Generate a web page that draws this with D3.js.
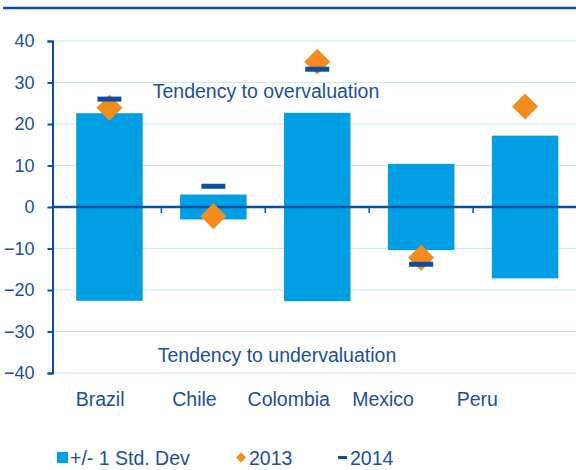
<!DOCTYPE html>
<html>
<head>
<meta charset="utf-8">
<script src="https://cdn.jsdelivr.net/npm/d3@7"></script>
<style>
  body { margin: 0; background: #fff; }
  svg { display: block; font-family: "Liberation Sans", Arial, sans-serif; }
</style>
</head>
<body>
<div id="chart"></div>
<script>
const countries = ["Brazil", "Chile", "Colombia", "Mexico", "Peru"];
const stdDev = [22.6, 3.0, 22.7, 10.4, 17.2];
const val2013 = [23.9, -2.2, 35.0, -12.2, 24.2];
const val2014 = [26.0, 5.0, 33.2, -13.8, null];
const yTicks = [40, 30, 20, 10, 0, -10, -20, -30, -40];

const width = 576, height = 470;
const dark = "#0b4ea2", textCol = "#1c4f9c", barCol = "#009fe3",
      orange = "#f28c1e", grid = "#c6e9f8";
const fs = "19.5px";

const svg = d3.select("#chart").append("svg")
    .attr("width", width).attr("height", height);

// top rule
svg.append("line")
    .attr("x1", 3).attr("x2", 576).attr("y1", 8).attr("y2", 8)
    .attr("stroke", dark).attr("stroke-width", 2.5);

const y = d3.scaleLinear().domain([-40, 40]).range([373, 41]);
const x = d3.scaleBand().domain(countries).range([57.5, 577]).padding(0);
// category labels sit on their own spacing
const xLab = d3.scaleBand().domain(countries).range([53, 524.5]);

// gridlines
svg.append("g").selectAll("line")
    .data(yTicks.filter(d => d !== 0))
    .enter().append("line")
    .attr("x1", 53).attr("x2", 576)
    .attr("y1", d => y(d)).attr("y2", d => y(d))
    .attr("stroke", grid).attr("stroke-width", 1);

// bars +/- 1 std dev
const barW = x.bandwidth() * 0.64;
svg.append("g").selectAll("rect")
    .data(countries)
    .enter().append("rect")
    .attr("x", d => x(d) + (x.bandwidth() - barW) / 2)
    .attr("width", barW)
    .attr("y", (d, i) => y(stdDev[i]))
    .attr("height", (d, i) => y(-stdDev[i]) - y(stdDev[i]))
    .attr("fill", barCol);

// zero line + category ticks
svg.append("line")
    .attr("x1", 53).attr("x2", 576).attr("y1", y(0)).attr("y2", y(0))
    .attr("stroke", dark).attr("stroke-width", 2.7);
svg.append("g").selectAll("line")
    .data(countries.slice(1))
    .enter().append("line")
    .attr("x1", d => x(d)).attr("x2", d => x(d))
    .attr("y1", y(0)).attr("y2", y(0) + 6)
    .attr("stroke", dark).attr("stroke-width", 1.5);

// y axis
const yAxis = svg.append("g")
    .attr("transform", "translate(52.5,0)")
    .call(d3.axisLeft(y).tickValues(yTicks).tickSize(5).tickPadding(13));
yAxis.select(".domain").attr("stroke", dark).attr("stroke-width", 2);
yAxis.selectAll(".tick line").attr("stroke", dark).attr("stroke-width", 2);
yAxis.selectAll(".tick text")
    .attr("fill", textCol).style("font-size", "18px")
    .style("font-family", "'Liberation Sans', Arial, sans-serif");

// 2013 diamonds
const diamond = d3.symbol().type(d3.symbolSquare).size(340);
svg.append("g").selectAll("path")
    .data(countries)
    .enter().append("path")
    .attr("d", diamond)
    .attr("transform", (d, i) =>
        `translate(${x(d) + x.bandwidth() / 2},${y(val2013[i])}) rotate(45)`)
    .attr("fill", orange);

// 2014 dashes
svg.append("g").selectAll("rect")
    .data(countries.filter((d, i) => val2014[i] !== null))
    .enter().append("rect")
    .attr("x", d => x(d) + x.bandwidth() / 2 - 12)
    .attr("width", 24)
    .attr("y", d => y(val2014[countries.indexOf(d)]) - 2.5)
    .attr("height", 5)
    .attr("fill", dark);

// annotations
svg.append("text")
    .attr("x", 266).attr("y", 98)
    .attr("text-anchor", "middle")
    .attr("fill", textCol).style("font-size", fs)
    .text("Tendency to overvaluation");
svg.append("text")
    .attr("x", 277).attr("y", 362)
    .attr("text-anchor", "middle")
    .attr("fill", textCol).style("font-size", fs)
    .text("Tendency to undervaluation");

// category labels
svg.append("g").selectAll("text")
    .data(countries)
    .enter().append("text")
    .attr("x", d => xLab(d) + xLab.bandwidth() / 2)
    .attr("y", 406)
    .attr("text-anchor", "middle")
    .attr("fill", textCol).style("font-size", fs)
    .text(d => d);

// legend
const leg = svg.append("g").attr("fill", textCol).style("font-size", fs);
leg.append("rect").attr("x", 57).attr("y", 452).attr("width", 11).attr("height", 11)
    .attr("fill", barCol);
leg.append("text").attr("x", 70).attr("y", 465).text("+/- 1 Std. Dev");
leg.append("path")
    .attr("d", d3.symbol().type(d3.symbolSquare).size(50))
    .attr("transform", "translate(241,457.5) rotate(45)")
    .attr("fill", orange);
leg.append("text").attr("x", 249).attr("y", 465).text("2013");
leg.append("rect").attr("x", 338).attr("y", 456).attr("width", 9).attr("height", 3)
    .attr("fill", dark);
leg.append("text").attr("x", 350).attr("y", 465).text("2014");
</script>
</body>
</html>
